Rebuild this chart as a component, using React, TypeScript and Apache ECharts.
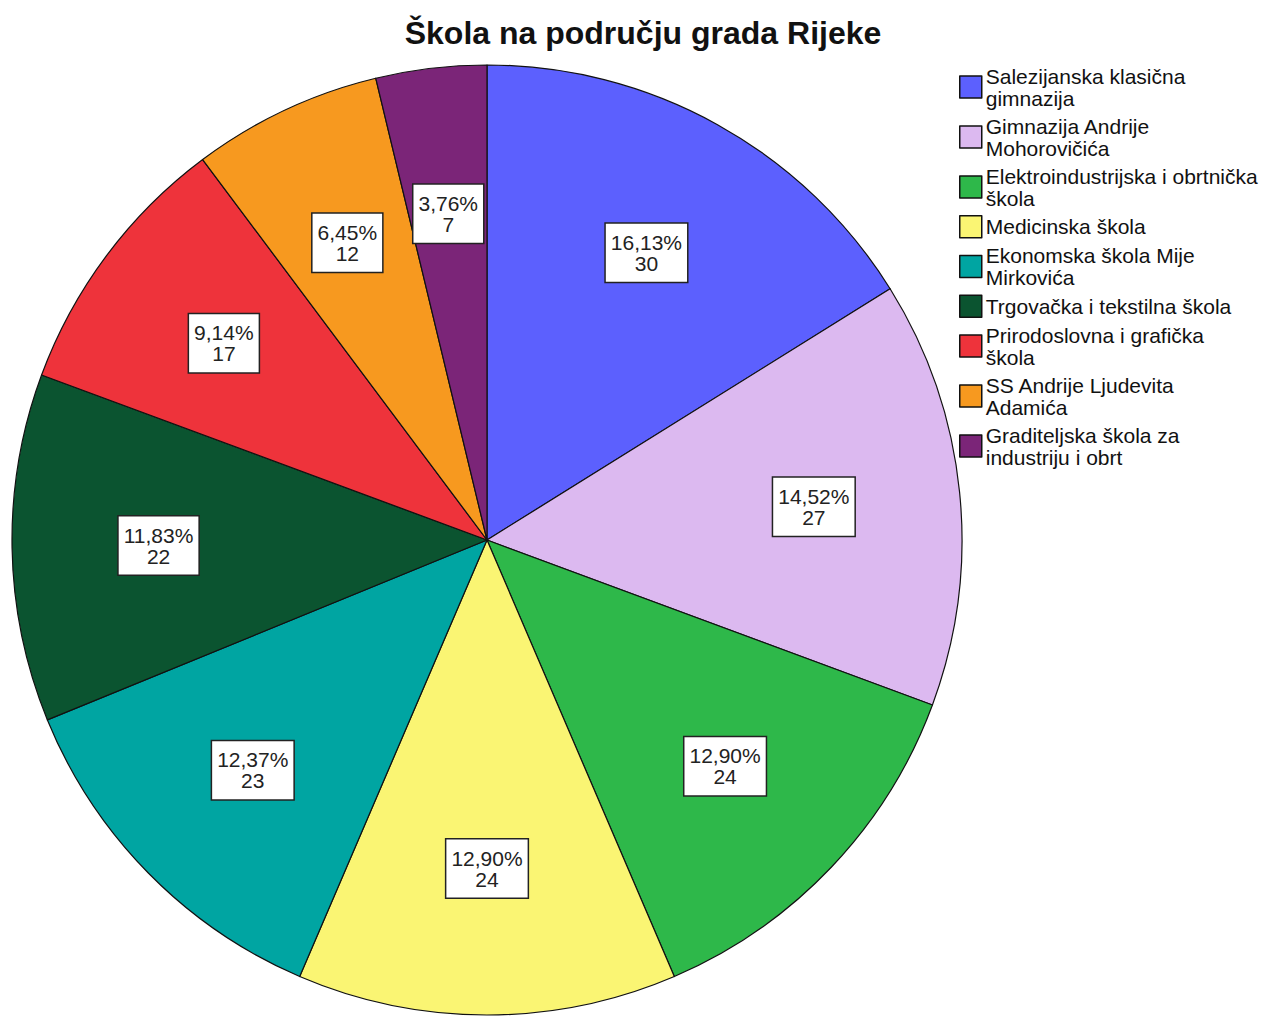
import React, { useEffect, useRef } from "react";
import * as echarts from "echarts";

const categories = [
  "Salezijanska klasična gimnazija",
  "Gimnazija Andrije Mohorovičića",
  "Elektroindustrijska i obrtnička škola",
  "Medicinska škola",
  "Ekonomska škola Mije Mirkovića",
  "Trgovačka i tekstilna škola",
  "Prirodoslovna i grafička škola",
  "SS Andrije Ljudevita Adamića",
  "Graditeljska škola za industriju i obrt",
];
const legendLabels = [
  "Salezijanska klasična\ngimnazija",
  "Gimnazija Andrije\nMohorovičića",
  "Elektroindustrijska i obrtnička\nškola",
  "Medicinska škola",
  "Ekonomska škola Mije\nMirkovića",
  "Trgovačka i tekstilna škola",
  "Prirodoslovna i grafička\nškola",
  "SS Andrije Ljudevita\nAdamića",
  "Graditeljska škola za\nindustriju i obrt",
];
const counts = [30, 27, 24, 24, 23, 22, 17, 12, 7];
const colors = [
  "#5C60FE",
  "#DCB9F0",
  "#2EB84A",
  "#FAF573",
  "#00A5A2",
  "#0B5430",
  "#EE333B",
  "#F7991F",
  "#7B2578",
];
const titleText = "Škola na području grada Rijeke";

export default function App() {
  const ref = useRef<HTMLDivElement>(null);
  useEffect(() => {
    document.body.style.margin = "0";
    const chart = echarts.init(ref.current!, null, { renderer: "svg" });
    const total = counts.reduce((a, b) => a + b, 0);
    const data = categories.map((name, i) => ({
      name,
      value: counts[i],
      itemStyle: { color: colors[i] },
    }));
    const fmtPct = (v: number) =>
      ((v / total) * 100).toFixed(2).replace(".", ",") + "%";
    chart.setOption({
      animation: false,
      backgroundColor: "#ffffff",
      title: {
        text: titleText,
        left: 638,
        textAlign: "center",
        top: 12,
        textStyle: {
          fontFamily: "Liberation Sans",
          fontSize: 32,
          fontWeight: "bold",
          color: "#111111",
        },
      },
      legend: {
        orient: "vertical",
        left: 954,
        top: 60,
        itemWidth: 22,
        itemHeight: 22,
        itemGap: 6,
        icon: "rect",
        data: categories,
        selectedMode: false,
        formatter: (name: string) => legendLabels[categories.indexOf(name)],
        itemStyle: { borderColor: "#111111", borderWidth: 1.5 },
        textStyle: {
          fontFamily: "Liberation Sans",
          fontSize: 21,
          lineHeight: 22,
          color: "#111111",
          padding: [0, 0, 0, -1],
        },
      },
      series: [
        {
          type: "pie",
          center: [487, 540],
          radius: [0, 475],
          startAngle: 90,
          clockwise: true,
          silent: true,
          data,
          label: { show: false },
          labelLine: { show: false },
          itemStyle: { borderColor: "#111111", borderWidth: 1.2 },
          emphasis: { disabled: true },
        },
        {
          type: "pie",
          center: [487, 540],
          radius: [176, 475],
          startAngle: 90,
          clockwise: true,
          silent: true,
          z: 5,
          data: categories.map((name, i) => ({ name, value: counts[i] })),
          itemStyle: { color: "rgba(0,0,0,0)", borderWidth: 0 },
          emphasis: { disabled: true },
          labelLine: { show: false },
          label: {
            show: true,
            position: "inside",
            formatter: (p: any) => fmtPct(p.value) + "\n" + p.value,
            fontFamily: "Liberation Sans",
            fontSize: 21,
            lineHeight: 21,
            color: "#222222",
            backgroundColor: "#ffffff",
            borderColor: "#222222",
            borderWidth: 1.5,
            padding: [8, 5, 8, 5],
            align: "center",
          },
        },
      ],
    });
    return () => chart.dispose();
  }, []);
  return <div ref={ref} style={{ width: 1271, height: 1021 }} />;
}
